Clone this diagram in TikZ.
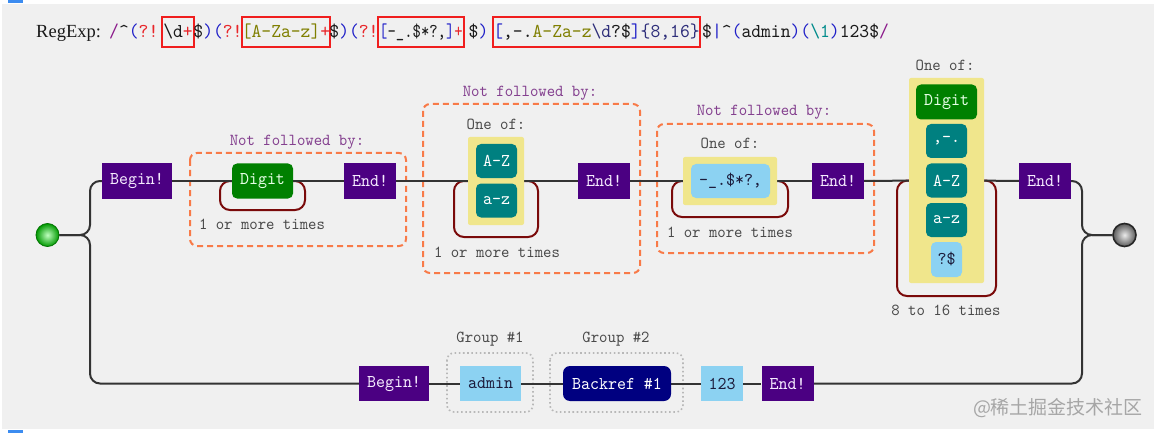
\documentclass[tikz,border=0pt]{standalone}
\usepackage{fontspec}
\setmainfont{Liberation Serif}
\newfontfamily\monofont[FakeStretch=0.952]{lmmono10-regular.otf}
\newfontfamily\cjkfont{Noto Sans CJK SC}
\usepackage{graphicx}
\definecolor{bgc}{HTML}{F0F0F0}
\definecolor{blueM}{HTML}{3C8CF0}
\definecolor{railc}{HTML}{333333}
\definecolor{loopred}{HTML}{7A0A0A}
\definecolor{indigoc}{HTML}{4B0082}
\definecolor{anctext}{HTML}{F6ECFF}
\definecolor{dgreen}{HTML}{008000}
\definecolor{digtext}{HTML}{E6FFE6}
\definecolor{tealc}{HTML}{008080}
\definecolor{khakic}{HTML}{F0E68C}
\definecolor{litblue}{HTML}{8CD2F2}
\definecolor{littext}{HTML}{1C1C3C}
\definecolor{navyc}{HTML}{000080}
\definecolor{nfbord}{HTML}{F87A48}
\definecolor{nfpurple}{HTML}{84408F}
\definecolor{labgray}{HTML}{4A4A4A}
\definecolor{dotgray}{HTML}{B8B8B8}
\definecolor{wmgray}{HTML}{A6A6A6}
\definecolor{rxpurple}{HTML}{8B1A8B}
\definecolor{rxblue}{HTML}{2020C8}
\definecolor{rxred}{HTML}{E8262A}
\definecolor{rxolive}{HTML}{7F7F00}
\definecolor{rxteal}{HTML}{008B8B}
\definecolor{rxnavy}{HTML}{2E2E7A}
\definecolor{rxdark}{HTML}{1A1A1A}
\definecolor{rxbox}{HTML}{F01E1E}
\newcommand\rxc[2]{\textcolor{#1}{#2}}
\pgfdeclarelayer{bg}
\pgfsetlayers{bg,main}
\tikzset{
  boxbase/.style={font=\monofont\fontsize{18}{20}\selectfont, inner sep=0pt, minimum height=35pt},
  anc/.style={boxbase, fill=indigoc, text=anctext, minimum width=52pt},
  dig/.style={boxbase, fill=dgreen, text=digtext, rounded corners=5pt, minimum width=61pt},
  rng/.style={boxbase, fill=tealc, text=white, rounded corners=5pt, minimum width=41pt, minimum height=34pt},
  lit/.style={boxbase, fill=litblue, text=littext},
  bref/.style={boxbase, fill=navyc, text=white, rounded corners=7pt},
  setbg/.style={fill=khakic, inner sep=0pt, rounded corners=2pt},
  rail/.style={line width=2pt, draw=railc},
  railr/.style={rail, rounded corners=10pt},
  loopc/.style={line width=2pt, draw=loopred, rounded corners=10pt},
  nfbox/.style={draw=nfbord, line width=2pt, dash pattern=on 6pt off 4pt, rounded corners=7pt},
  grpbox/.style={draw=dotgray, line width=1.6pt, dash pattern=on 1.6pt off 2.6pt, rounded corners=7pt},
  lab/.style={font=\monofont\fontsize{16.8}{18}\selectfont, text=labgray, inner sep=0pt},
  nflab/.style={lab, text=nfpurple},
  rx/.style={font=\monofont\fontsize{19.66}{22}\selectfont, inner sep=0pt},
  rxb/.style={rx, draw=rxbox, line width=2pt, text height=14pt, text depth=4.5pt, minimum height=30pt},
}
\begin{document}
\begin{tikzpicture}[x=1pt,y=-1pt]
\useasboundingbox (0,0) rectangle (1154,433);
\begin{pgfonlayer}{bg}
\fill[white] (0,0) rectangle (1154,433);
\fill[bgc] (2,4) rectangle (1154,429);
\fill[blueM] (8,0) rectangle (23,3);
\fill[blueM] (8,430) rectangle (23,433);
\end{pgfonlayer}

% ---- regex header ----
\node[anchor=base west, inner sep=0pt, font=\fontsize{18.5}{20}\selectfont, text=rxdark] (hdr) at (36,37.25) {RegExp:};
\node[rx, anchor=base west] (r0) at (109,37.25) {\rxc{rxpurple}{/}\rxc{rxdark}{\textasciicircum}\rxc{rxblue}{(}\rxc{rxred}{?!}};
\node[rxb, minimum width=32pt] (r1) at (178,32.5) {\rxc{rxdark}{\textbackslash d}\rxc{rxred}{+}};
\node[rx, anchor=base] (r2) at (218,37.25) {\rxc{rxdark}{\$}\rxc{rxblue}{)(}\rxc{rxred}{?!}};
\node[rxb, minimum width=88pt] (r3) at (286,32.5) {\rxc{rxolive}{[A-Za-z]}\rxc{rxred}{+}};
\node[rx, anchor=base] (r4) at (354,37.25) {\rxc{rxdark}{\$}\rxc{rxblue}{)(}\rxc{rxred}{?!}};
\node[rxb, minimum width=86pt] (r5) at (421,32.5) {\scalebox{0.85}[1]{\rxc{rxblue}{[}\rxc{rxdark}{-\_.\$*?,}\rxc{rxblue}{]}\rxc{rxred}{+}}};
\node[rx, anchor=base] (r6) at (478.5,37.25) {\rxc{rxdark}{\$}\rxc{rxblue}{)}};
\node[rxb, minimum width=207pt] (r7) at (596.5,32.5) {\rxc{rxblue}{[}\rxc{rxdark}{,-.}\rxc{rxolive}{A-Za-z}\rxc{rxnavy}{\textbackslash d}\rxc{rxdark}{?\$}\rxc{rxblue}{]}\rxc{rxnavy}{\{8,16\}}};
\node[rx, anchor=base west] (r8) at (702,37.25) {\rxc{rxdark}{\$}\rxc{rxblue}{|}\rxc{rxdark}{\textasciicircum}\rxc{rxblue}{(}\rxc{rxdark}{admin}\rxc{rxblue}{)(}\rxc{rxteal}{\textbackslash 1}\rxc{rxblue}{)}\rxc{rxdark}{123\$}\rxc{rxpurple}{/}};

% ---- terminals ----
\node[circle, minimum size=23pt, inner sep=0pt, draw=green!45!black, line width=0.8pt, inner color=green!25!white, outer color=green!60!black] (start) at (47.5,235) {};
\node[circle, minimum size=23pt, inner sep=0pt, draw=black!85, line width=1.6pt, inner color=black!8, outer color=black!65] (finish) at (1124.5,235) {};

% ---- top branch ----
\node[anc, minimum width=70pt] (b1) at (137,181) {Begin!};
\node[dig] (d1) at (262.5,181) {Digit};
\node[anc] (e1) at (370,181) {End!};
\node[setbg, minimum width=56pt, minimum height=88pt] (s1) at (496,181) {};
\node[rng] (s1a) at (496.5,161) {A-Z};
\node[rng] (s1b) at (496.5,200.5) {a-z};
\node[anc] (e2) at (604,181) {End!};
\node[setbg, minimum width=94pt, minimum height=48pt] (s2) at (730,181) {};
\node[lit, rounded corners=5pt, minimum width=79pt, minimum height=34pt] (s2a) at (730.5,181) {-\_.\$*?,};
\node[anc] (e3) at (838,181) {End!};
\node[setbg, minimum width=75pt, minimum height=205pt] (s3) at (946.5,180.5) {};
\node[dig] (s3a) at (946.5,102) {Digit};
\node[rng] (s3b) at (946.5,141) {,-.};
\node[rng] (s3c) at (946.5,180.5) {A-Z};
\node[rng] (s3d) at (946.5,220) {a-z};
\node[lit, rounded corners=5pt, minimum width=31pt] (s3e) at (946.5,259.5) {?\$};
\node[anc] (e4) at (1045,181) {End!};

% labels
\node[nflab] (nf1) at (297,142) {Not followed by:};
\node[nflab] (nf2) at (530,93) {Not followed by:};
\node[nflab] (nf3) at (764,112) {Not followed by:};
\node[lab] (oo1) at (496,124) {One of:};
\node[lab] (oo2) at (730,143) {One of:};
\node[lab] (oo3) at (945,65) {One of:};
\node[lab] (rp1) at (262,224) {1 or more times};
\node[lab] (rp2) at (497,252) {1 or more times};
\node[lab] (rp3) at (730,232) {1 or more times};
\node[lab] (rp4) at (946,310) {8 to 16 times};

% ---- bottom branch ----
\node[anc, minimum width=70pt] (b2) at (394,383.5) {Begin!};
\node[lit, minimum width=61pt] (ad) at (490.5,383.5) {admin};
\node[bref, minimum width=108pt] (br) at (617,383.5) {Backref \#1};
\node[lit, minimum width=42pt] (n123) at (722,383.5) {123};
\node[anc] (e5) at (787.5,383.5) {End!};
\node[lab] (g1) at (490,339) {Group \#1};
\node[lab] (g2) at (616,339) {Group \#2};

\node[font=\cjkfont\fontsize{19}{22}\selectfont, text=wmgray, inner sep=0pt] (wm) at (1058,408) {@稀土掘金技术社区};

\begin{pgfonlayer}{bg}
\draw[nfbox] (190,153) rectangle (406,246);
\draw[nfbox] (423,104) rectangle (640,273);
\draw[nfbox] (657,124) rectangle (874,253);
\draw[grpbox] (447,353) rectangle (533,412);
\draw[grpbox] (550,353) rectangle (683,412);
% loops
\draw[loopc] (d1.west) -- (220,181) -- (220,210) -- (305,210) -- (305,181) -- (d1.east);
\draw[loopc] (s1.west) -- (454,181) -- (454,237) -- (538,237) -- (538,181) -- (s1.east);
\draw[loopc] (s2.west) -- (672,181) -- (672,217) -- (788,217) -- (788,181) -- (s2.east);
\draw[loopc] (s3.west) -- (897,181) -- (897,296) -- (996,296) -- (996,181) -- (s3.east);
% rails
\draw[railr] (start) -- (90,235) -- (90,181) -- (b1);
\draw[railr] (start) -- (90,235) -- (90,383.5) -- (b2);
\draw[rail] (b1) -- (d1);
\draw[rail] (d1) -- (e1);
\draw[rail] (e1) -- (s1);
\draw[rail] (s1) -- (e2);
\draw[rail] (e2) -- (s2);
\draw[rail] (s2) -- (e3);
\draw[rail] (e3) -- (s3);
\draw[rail] (s3) -- (e4);
\draw[railr] (e4) -- (1082,181) -- (1082,235) -- (finish);
\draw[rail] (b2) -- (ad);
\draw[rail] (ad) -- (br);
\draw[rail] (br) -- (n123);
\draw[rail] (n123) -- (e5);
\draw[railr] (e5) -- (1082,383.5) -- (1082,235) -- (finish);
\end{pgfonlayer}
\end{tikzpicture}
\end{document}
